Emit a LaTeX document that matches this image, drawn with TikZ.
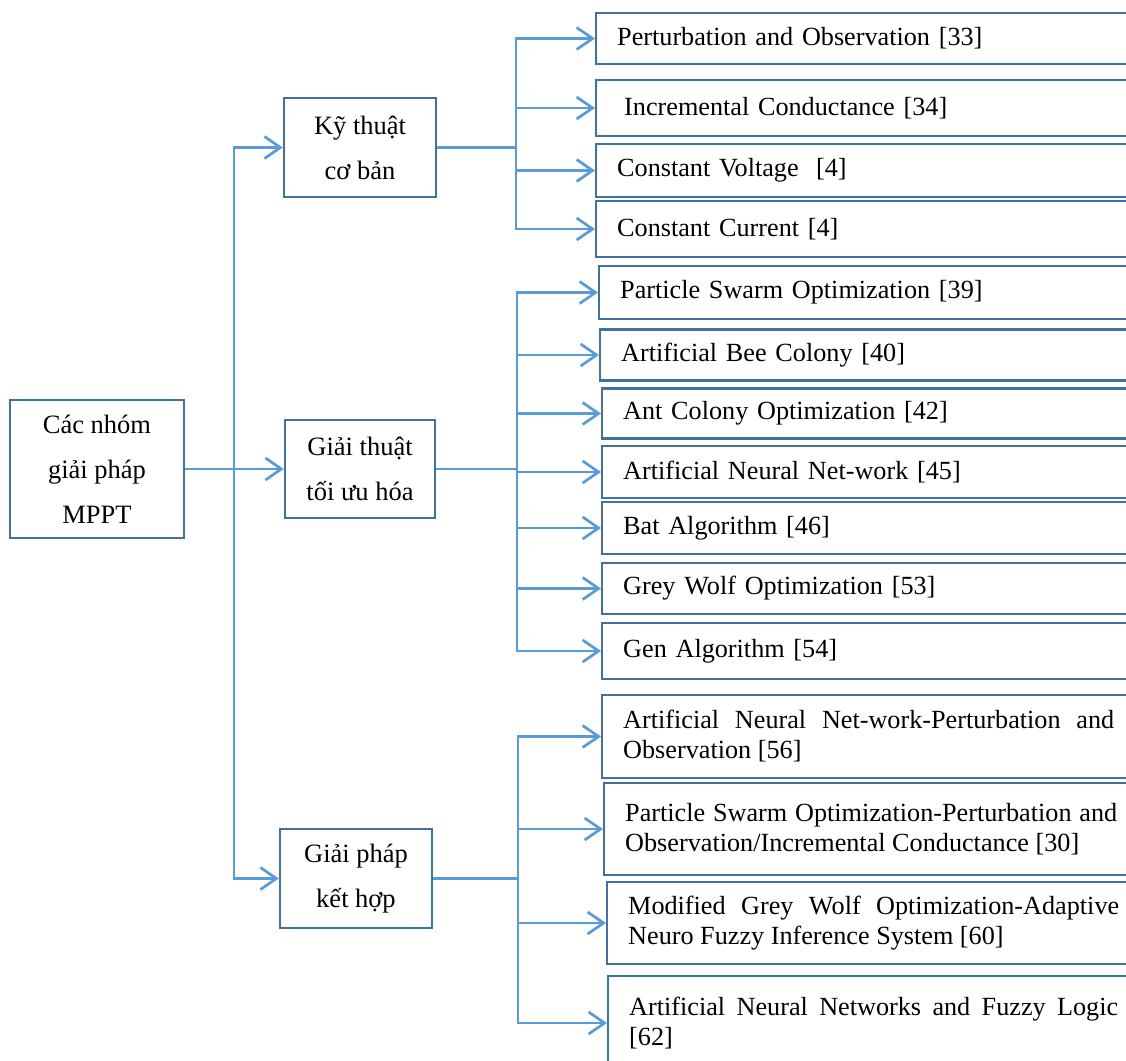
\documentclass[tikz,border=0pt]{standalone}
\usepackage{fontspec}
\setmainfont{Liberation Serif}
\usetikzlibrary{arrows.meta}
\definecolor{boxblue}{HTML}{41719C}
\definecolor{lineblue}{HTML}{5B9BD5}
\newcommand{\nobreakhyph}{\hyphenpenalty=10000\relax\exhyphenpenalty=10000\relax}
\begin{document}
\begin{tikzpicture}[x=1pt,y=-1pt,
  box/.style={draw=boxblue,line width=2.4pt,inner sep=0pt,align=center,font=\fontsize{26.5}{45}\selectfont},
  rbox/.style={draw=boxblue,line width=2.4pt,anchor=west,inner xsep=21pt,inner ysep=0pt,text width=500pt,align=left,font=\fontsize{26.2}{30}\selectfont},
  jbox/.style={rbox,align=justify},
  link/.style={draw=lineblue,line width=2.7pt},
  arr/.style={link,-{Straight Barb[length=16pt,width=22pt]}}]
\useasboundingbox (0,0) rectangle (1126,1060);
\fill[white] (0,0) rectangle (1126,1060);
\clip (0,0) rectangle (1126,1060);

% level 0 and 1
\node[box,minimum width=174pt,minimum height=138pt] (m) at (97,469) {Các nhóm\\giải pháp\\MPPT};
\node[box,minimum width=152pt,minimum height=99pt] (k) at (360,147.5) {Kỹ thuật\\cơ bản};
\node[box,minimum width=150pt,minimum height=98pt] (g) at (360,469) {Giải thuật\\tối ưu hóa};
\node[box,minimum width=152pt,minimum height=99pt] (h) at (356,878.5) {Giải pháp\\kết hợp};

% group 1
\node[rbox,minimum height=51pt] (p1) at (595,38.5) {Perturbation and Observation [33]};
\node[rbox,minimum height=56pt] (p2) at (595,108) {\hspace*{7pt}Incremental Conductance [34]};
\node[rbox,minimum height=53pt] (p3) at (595,170.5) {Constant Voltage\ \ [4]};
\node[rbox,minimum height=56pt] (p4) at (595,229) {Constant Current [4]};

% group 2
\node[rbox,minimum height=53pt] (q1) at (598,292.5) {Particle Swarm Optimization [39]};
\node[rbox,minimum height=51pt] (q2) at (599,355) {Artificial Bee Colony [40]};
\node[rbox,minimum height=50pt] (q3) at (601,413.5) {Ant Colony Optimization [42]};
\node[rbox,minimum height=52pt] (q4) at (601,472) {Artificial Neural Net-work [45]};
\node[rbox,minimum height=52pt] (q5) at (601,528) {Bat Algorithm [46]};
\node[rbox,minimum height=51pt] (q6) at (601,588.5) {Grey Wolf Optimization [53]};
\node[rbox,minimum height=56pt] (q7) at (601,651) {Gen Algorithm [54]};

% group 3
\node[jbox,text width=491pt,minimum height=83pt] (r1) at (601,736.5) {\nobreakhyph Artificial Neural Net-work-Perturbation and\linebreak{} Observation [56]};
\node[jbox,text width=492pt,minimum height=92pt] (r2) at (603,829) {\nobreakhyph Particle Swarm Optimization-Perturbation and\linebreak{} Observation/Incremental Conductance [30]};
\node[jbox,text width=491pt,minimum height=82pt] (r3) at (606,923) {\nobreakhyph Modified Grey Wolf Optimization-Adaptive\linebreak{} Neuro Fuzzy Inference System [60]};
\node[jbox,text width=489pt,minimum height=94pt] (r4) at (607,1023) {\nobreakhyph Artificial Neural Networks and Fuzzy Logic\linebreak{}\relax [62]};

% connectors
\coordinate (j0) at (234,469);
\draw[arr] (m.east) -- (g.west);
\draw[arr] (j0) |- (k.west);
\draw[arr] (j0) |- (h.west);

\coordinate (j1) at (516,147.5);
\draw[link] (k.east) -- (j1);
\foreach \n in {p1,p2,p3,p4} \draw[arr] (j1) |- (\n.west);

\coordinate (j2) at (517,469);
\draw[link] (g.east) -- (j2);
\foreach \n in {q1,q2,q3,q4,q5,q6,q7} \draw[arr] (j2) |- (\n.west);

\coordinate (j3) at (518,878.5);
\draw[link] (h.east) -- (j3);
\foreach \n in {r1,r2,r3,r4} \draw[arr] (j3) |- (\n.west);
\end{tikzpicture}
\end{document}
